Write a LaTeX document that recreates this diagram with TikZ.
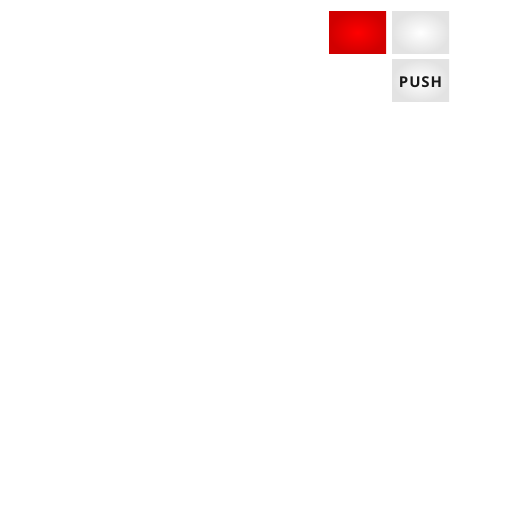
\documentclass[tikz,border=0pt]{standalone}
\usepackage{fontspec}
\setmainfont{Open Sans}
\usetikzlibrary{positioning}

\tikzset{
  panel/.style={rectangle, minimum width=57bp, minimum height=42bp, inner sep=0pt, outer sep=0pt},
  lamp/.style={panel, inner color=red!100!white, outer color=red!82!black},
  knob/.style={panel, inner color=white, outer color=black!11},
}

\begin{document}
\begin{tikzpicture}[x=1bp, y=1bp]
        \useasboundingbox[fill=white] (0,0) rectangle (512,512);
        \node[lamp] (alarm) at (357.5,479.5) {};
        \node[knob] (light) [right = 6bp of alarm] {};
        \node[knob, font=\bfseries\fontsize{15}{17}\selectfont, text=black!90, text height=14bp, text depth=0pt] (push) [below = 6bp of light] {\addfontfeature{LetterSpace=6}PUSH};
    \end{tikzpicture}
\end{document}
